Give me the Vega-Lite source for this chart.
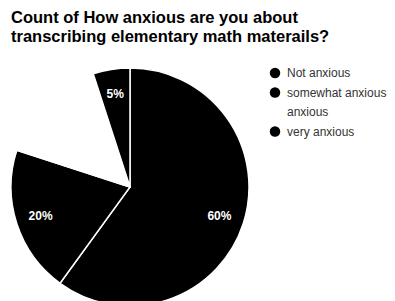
{
  "$schema": "https://vega.github.io/schema/vega-lite/v6.json",
  "autosize": {"type": "none"},
  "padding": {"left": 0, "top": 68, "right": 135, "bottom": 0},
  "width": 260,
  "height": 238,
  "background": "white",
  "title": {
    "text": ["Count of How anxious are you about", "transcribing elementary math materails?"],
    "anchor": "start",
    "dx": 11,
    "offset": 20,
    "font": "Liberation Sans",
    "fontSize": 16.5,
    "fontWeight": "bold",
    "lineHeight": 19,
    "color": "black",
    "frame": "group"
  },
  "data": {
    "values": [
      {"answer": "Not anxious", "pct": 60, "ord": 1, "label": "60%"},
      {"answer": "somewhat anxious", "pct": 20, "ord": 2, "label": "20%"},
      {"answer": "anxious", "pct": 15, "ord": 3, "label": "15%"},
      {"answer": "very anxious", "pct": 5, "ord": 4, "label": "5%"}
    ]
  },
  "encoding": {
    "theta": {"field": "pct", "type": "quantitative", "stack": true},
    "order": {"field": "ord", "type": "quantitative"}
  },
  "layer": [
    {
      "mark": {"type": "arc", "outerRadius": 119, "stroke": "white", "strokeWidth": 1.5},
      "encoding": {
        "color": {
          "field": "answer",
          "type": "nominal",
          "scale": {
            "domain": ["Not anxious", "somewhat anxious", "anxious", "very anxious"],
            "range": ["black", "black", "white", "black"]
          },
          "legend": {
            "title": null,
            "orient": "none",
            "legendX": 269,
            "legendY": -1,
            "symbolType": "circle",
            "symbolSize": 110,
            "symbolStrokeWidth": 0,
            "labelFont": "Liberation Sans",
            "labelFontSize": 12,
            "labelColor": "#333",
            "rowPadding": 7.5,
            "labelOffset": 6
          }
        }
      }
    },
    {
      "mark": {"type": "text", "radius": 94, "font": "Liberation Sans", "fontSize": 12, "fontWeight": "bold", "fill": "white"},
      "encoding": {
        "text": {"field": "label", "type": "nominal"}
      }
    }
  ]
}
